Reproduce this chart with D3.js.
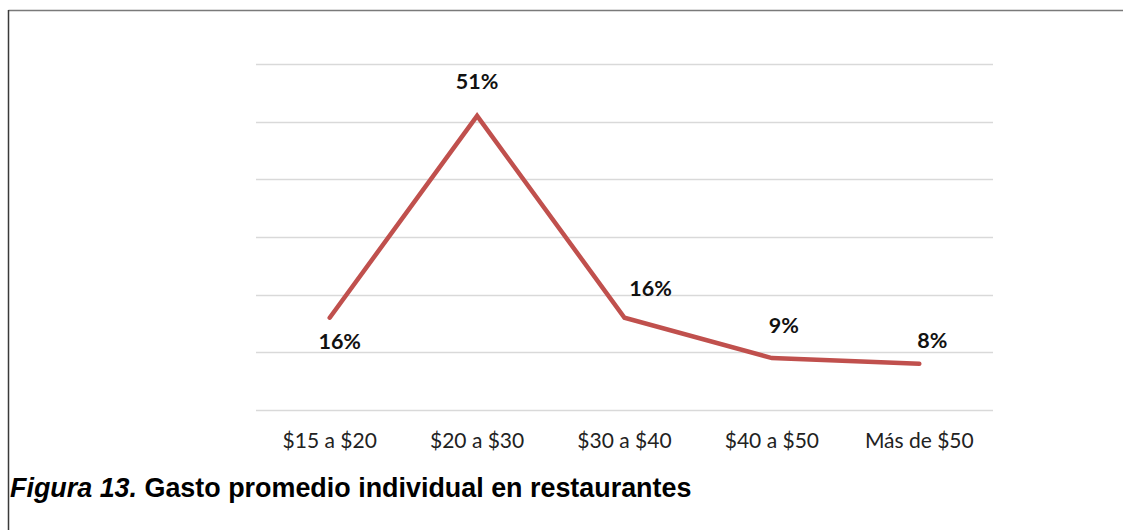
<!DOCTYPE html>
<html><head><meta charset="utf-8">
<script src="https://cdn.jsdelivr.net/npm/d3@7"></script>
<style>html,body{margin:0;padding:0;background:#fff;}svg{display:block;}</style>
</head><body>
<svg id="c" width="1123" height="530"></svg>
<script>
const categories = ["$15 a $20", "$20 a $30", "$30 a $40", "$40 a $50", "Más de $50"];
const values = [0.16, 0.51, 0.16, 0.09, 0.08];
const valueLabels = ["16%", "51%", "16%", "9%", "8%"];
const yTicks = [0, 0.1, 0.2, 0.3, 0.4, 0.5, 0.6];
const labelOffsets = [[10, 24], [0, -34], [26, -29], [12, -32], [13, -23]];
const captionItalic = "Figura 13.";
const captionRest = " Gasto promedio individual en restaurantes";

const svg = d3.select("#c");
const x = d3.scaleBand().domain(categories).range([256, 993]);
const y = d3.scaleLinear().domain([0, 0.6]).range([410, 64]);

// frame (top and left)
svg.append("line").attr("x1", 8.5).attr("x2", 1123).attr("y1", 10.5).attr("y2", 10.5).attr("stroke", "#7a7a7a").attr("stroke-width", 1.5);
svg.append("line").attr("x1", 8.5).attr("x2", 8.5).attr("y1", 10).attr("y2", 530).attr("stroke", "#3a3a3a").attr("stroke-width", 1.5);

// gridlines
svg.append("g").selectAll("line").data(yTicks).join("line")
  .attr("x1", 256).attr("x2", 993)
  .attr("y1", d => Math.round(y(d)) + 0.5).attr("y2", d => Math.round(y(d)) + 0.5)
  .attr("stroke", "#d9d9d9").attr("stroke-width", 1.5);

// x axis labels
const xAxis = d3.axisBottom(x).tickSize(0).tickPadding(0);
const gx = svg.append("g").attr("transform", "translate(0,410)").call(xAxis);
gx.select(".domain").remove();
gx.selectAll("text").attr("font-family", "Lato, 'Open Sans', sans-serif").attr("font-size", 21)
  .attr("fill", "#222").attr("dy", null).attr("y", 38);

// line
const line = d3.line().x((d, i) => x(categories[i]) + x.bandwidth() / 2).y(d => y(d));
svg.append("path").datum(values).attr("d", line).attr("fill", "none")
  .attr("stroke", "#C0504D").attr("stroke-width", 4.5)
  .attr("stroke-linejoin", "miter").attr("stroke-linecap", "round");

// data labels
svg.append("g").selectAll("text").data(values).join("text")
  .attr("x", (d, i) => x(categories[i]) + x.bandwidth() / 2 + labelOffsets[i][0])
  .attr("y", (d, i) => y(d) + labelOffsets[i][1] + 7)
  .attr("text-anchor", "middle")
  .attr("font-family", "Lato, 'Open Sans', sans-serif").attr("font-weight", "bold")
  .attr("font-size", 21.5).attr("fill", "#111")
  .text((d, i) => valueLabels[i]);

// caption
const cap = svg.append("text").attr("x", 10).attr("y", 497)
  .attr("font-family", "'Liberation Sans', Arial, sans-serif").attr("font-weight", "bold")
  .attr("font-size", 26.9).attr("fill", "#000");
cap.append("tspan").attr("font-style", "italic").text(captionItalic);
cap.append("tspan").text(captionRest);
</script>
</body></html>
